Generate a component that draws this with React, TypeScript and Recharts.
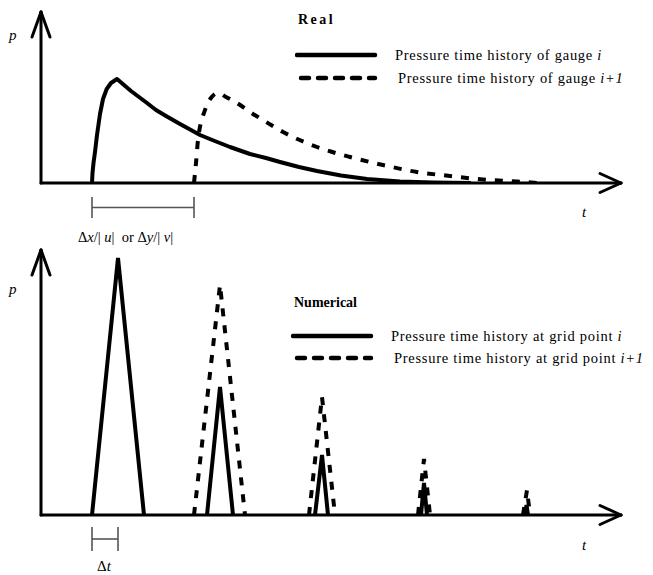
import React from "react"
import { LineChart, Line, XAxis, YAxis, ReferenceLine } from "recharts"

// t = time units along the axis, p = pressure units (schematic)
const realGaugeI = [
  { t: 51, p: 0 },
  { t: 51.5, p: 10 },
  { t: 52.5, p: 20 },
  { t: 54, p: 31 },
  { t: 56, p: 48 },
  { t: 59, p: 69 },
  { t: 62, p: 84 },
  { t: 65.7, p: 94 },
  { t: 70, p: 100 },
  { t: 76, p: 104 },
  { t: 83, p: 98 },
  { t: 90, p: 92 },
  { t: 98, p: 86 },
  { t: 106, p: 80 },
  { t: 115, p: 73 },
  { t: 125, p: 67 },
  { t: 139, p: 59 },
  { t: 150, p: 53 },
  { t: 159, p: 48 },
  { t: 175, p: 41.5 },
  { t: 189, p: 36 },
  { t: 209, p: 29 },
  { t: 225, p: 25 },
  { t: 239, p: 21 },
  { t: 258, p: 16 },
  { t: 276, p: 12 },
  { t: 300, p: 7.5 },
  { t: 326, p: 4 },
  { t: 359, p: 1.5 },
  { t: 392, p: 0.5 },
  { t: 430, p: 0 },
]

const realGaugeI1 = [
  { t: 153, p: 0 },
  { t: 155, p: 20 },
  { t: 157, p: 43 },
  { t: 164, p: 73 },
  { t: 170.7, p: 86 },
  { t: 177, p: 90 },
  { t: 185, p: 86 },
  { t: 196, p: 80 },
  { t: 209, p: 71 },
  { t: 222, p: 63 },
  { t: 242, p: 51 },
  { t: 276, p: 36 },
  { t: 309, p: 26 },
  { t: 342, p: 18 },
  { t: 376, p: 11 },
  { t: 409, p: 7 },
  { t: 442, p: 3.5 },
  { t: 476, p: 1.5 },
  { t: 496, p: 0 },
]

// null p = gap between peaks
const numGridI = [
  { t: 51, p: 0 }, { t: 77, p: 257 }, { t: 103, p: 0 }, { t: 130, p: null },
  { t: 166, p: 0 }, { t: 179, p: 128 }, { t: 192, p: 0 }, { t: 230, p: null },
  { t: 274, p: 0 }, { t: 281, p: 60 }, { t: 287, p: 0 }, { t: 330, p: null },
  { t: 380, p: 0 }, { t: 383, p: 32 }, { t: 386, p: 0 }, { t: 430, p: null },
  { t: 484, p: 0 }, { t: 485.5, p: 10 }, { t: 487, p: 0 },
]

const numGridI1 = [
  { t: 153, p: 0 }, { t: 179, p: 230 }, { t: 204, p: 0 }, { t: 240, p: null },
  { t: 268, p: 0 }, { t: 281, p: 118 }, { t: 294, p: 0 }, { t: 340, p: null },
  { t: 377, p: 0 }, { t: 383, p: 56 }, { t: 389, p: 0 }, { t: 440, p: null },
  { t: 482, p: 0 }, { t: 486, p: 25 }, { t: 489, p: 0 },
]

const realLegend = ["Pressure time history of gauge ", "Pressure time history of gauge "]
const numLegend = ["Pressure time history at grid point ", "Pressure time history at grid point "]

const serif = "'Liberation Serif', 'DejaVu Serif', serif"
const dash = "8 9"

function Axes({ tMax, pMax }: { tMax: number; pMax: number }) {
  const ax = { stroke: "#000", strokeWidth: 3, ifOverflow: "visible" as const, strokeLinecap: "round" }
  return [
    <ReferenceLine key="x" {...ax} segment={[{ x: 0, y: 0 }, { x: tMax, y: 0 }]} />,
    <ReferenceLine key="xa1" {...ax} segment={[{ x: tMax, y: 0 }, { x: tMax - 21, y: 9.5 }]} />,
    <ReferenceLine key="xa2" {...ax} segment={[{ x: tMax, y: 0 }, { x: tMax - 21, y: -9.5 }]} />,
    <ReferenceLine key="y" {...ax} segment={[{ x: 0, y: 0 }, { x: 0, y: pMax }]} />,
    <ReferenceLine key="ya1" {...ax} segment={[{ x: 0, y: pMax }, { x: -9, y: pMax - 25 }]} />,
    <ReferenceLine key="ya2" {...ax} segment={[{ x: 0, y: pMax }, { x: 9, y: pMax - 25 }]} />,
  ]
}

function bracket(t0: number, t1: number, pTop: number, pBot: number) {
  const st = { stroke: "#555", strokeWidth: 1.6, ifOverflow: "visible" as const }
  const mid = (pTop + pBot) / 2
  return [
    <ReferenceLine key="b0" {...st} segment={[{ x: t0, y: pTop }, { x: t0, y: pBot }]} />,
    <ReferenceLine key="b1" {...st} segment={[{ x: t1, y: pTop }, { x: t1, y: pBot }]} />,
    <ReferenceLine key="b2" {...st} segment={[{ x: t0, y: mid }, { x: t1, y: mid }]} />,
  ]
}

function LegendBox({ title, labels, left, top, titleSpacing, row1, row2 }: {
  title: string; labels: string[]; left: number; top: number; titleSpacing: number; row1: number; row2: number
}) {
  const row = { position: "absolute" as const, fontFamily: serif, fontSize: 14.5, letterSpacing: 0.72, whiteSpace: "nowrap" as const, lineHeight: "16px" }
  return (
    <div style={{ position: "absolute", left, top, width: 360, height: 90 }}>
      <div style={{ ...row, left: 3, top: 2, fontWeight: "bold", fontSize: 14, letterSpacing: titleSpacing }}>{title}</div>
      <svg style={{ position: "absolute", left: 0, top: 0 }} width={90} height={90}>
        <line x1={2} y1={row1} x2={80} y2={row1} stroke="#000" strokeWidth={4.5} strokeLinecap="round" />
        <line x1={6} y1={row2} x2={80} y2={row2} stroke="#000" strokeWidth={4.5} strokeLinecap="round" strokeDasharray={dash} />
      </svg>
      <div style={{ ...row, left: 100, top: row1 - 8 }}>
        {labels[0]}<i>i</i>
      </div>
      <div style={{ ...row, left: 103, top: row2 - 8 }}>
        {labels[1]}<i>i+1</i>
      </div>
    </div>
  )
}

const lbl = (left: number, top: number, size = 15) => ({
  position: "absolute" as const, left, top, fontFamily: serif, fontSize: size, fontStyle: "italic" as const, lineHeight: "16px",
})

export default function App() {
  return (
    <div style={{ position: "absolute", left: 0, top: 0, width: 653, height: 575, background: "#fff" }}>
      <div style={{ position: "absolute", left: 0, top: 0 }}>
        <LineChart width={653} height={250} margin={{ top: 12, right: 32, left: 41, bottom: 67 }}>
          <XAxis type="number" dataKey="t" domain={[0, 580]} hide allowDataOverflow />
          <YAxis type="number" dataKey="p" domain={[0, 171]} hide allowDataOverflow />
          {Axes({ tMax: 580, pMax: 171 })}
          {bracket(51, 153, -14, -35)}
          <Line data={realGaugeI} dataKey="p" type="linear" stroke="#000" strokeWidth={4} strokeLinejoin="round" dot={false} activeDot={false} isAnimationActive={false} />
          <Line data={realGaugeI1} dataKey="p" type="monotone" stroke="#000" strokeWidth={4} strokeDasharray={dash} dot={false} activeDot={false} isAnimationActive={false} />
        </LineChart>
      </div>
      <div style={{ position: "absolute", left: 0, top: 240 }}>
        <LineChart width={653} height={335} margin={{ top: 10, right: 32, left: 41, bottom: 60 }}>
          <XAxis type="number" dataKey="t" domain={[0, 580]} hide allowDataOverflow />
          <YAxis type="number" dataKey="p" domain={[0, 265]} hide allowDataOverflow />
          {Axes({ tMax: 580, pMax: 265 })}
          {bracket(51, 77, -12, -36)}
          <Line data={numGridI} dataKey="p" type="linear" stroke="#000" strokeWidth={4} dot={false} activeDot={false} isAnimationActive={false} />
          <Line data={numGridI1} dataKey="p" type="linear" stroke="#000" strokeWidth={4} strokeDasharray={dash} dot={false} activeDot={false} isAnimationActive={false} />
        </LineChart>
      </div>
      <LegendBox title="Real" labels={realLegend} left={295} top={10} titleSpacing={2.5} row1={45} row2={68} />
      <LegendBox title="Numerical" labels={numLegend} left={291} top={293} titleSpacing={0} row1={43} row2={65} />
      <div style={lbl(9, 27)}>p</div>
      <div style={lbl(582, 204)}>t</div>
      <div style={lbl(9, 281)}>p</div>
      <div style={lbl(582, 537)}>t</div>
      <div style={{ ...lbl(78, 229, 14.5), fontStyle: "normal", whiteSpace: "nowrap" }}>
        Δ<i>x</i>/| <i>u</i>|&nbsp; or Δ<i>y</i>/| <i>v</i>|
      </div>
      <div style={{ ...lbl(97, 558, 15), fontStyle: "normal" }}>
        Δ<i>t</i>
      </div>
    </div>
  )
}
